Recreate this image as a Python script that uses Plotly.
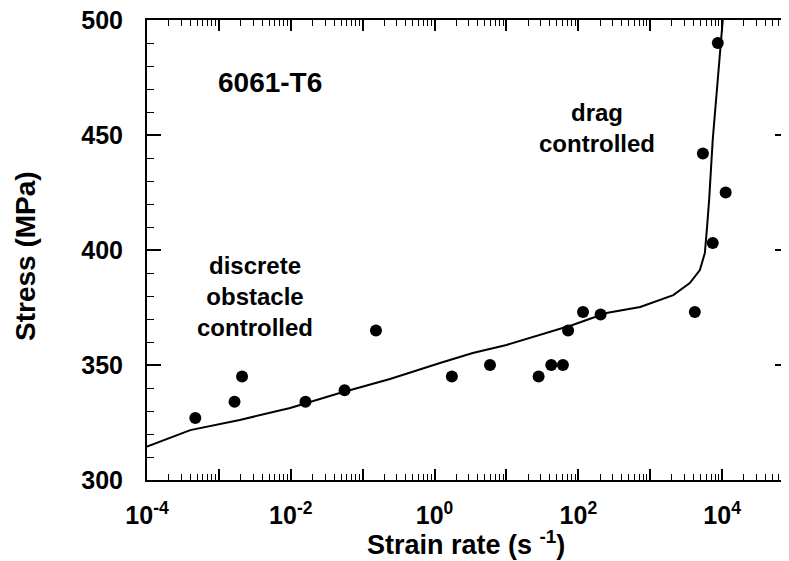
import plotly.graph_objects as go

# Model curve (strain rate in 1/s, stress in MPa)
model_rate = [1e-4, 4e-4, 1.95e-3, 9.8e-3, 0.048, 0.24, 1.19, 3.4, 10, 29.5, 83,
              245, 725, 2090, 3550, 4900, 5750, 6170, 6600, 7400, 8500, 10000, 10200]
model_stress = [314.5, 321.7, 326.1, 331.3, 337.8, 343.9, 350.9, 355.2, 358.7, 363.0, 367.4,
                372.6, 375.2, 380.4, 385.6, 391.3, 398.7, 410.0, 422.0, 448.0, 472.0, 497.0, 500.0]

# Experimental points
exp_rate = [4.7e-4, 1.65e-3, 2.1e-3, 0.016, 0.056, 0.153, 1.74, 5.9, 28, 42, 61, 72,
            116, 204, 4170, 7400, 5400, 8700, 11200]
exp_stress = [327, 334, 345, 334, 339, 365, 345, 350, 345, 350, 350, 365,
              373, 372, 373, 403, 442, 490, 425]

x_decades = [1e-4, 1e-3, 1e-2, 1e-1, 1e0, 1e1, 1e2, 1e3, 1e4]
x_label_vals = [1e-4, 1e-2, 1e0, 1e2, 1e4]
x_label_text = ["10<sup>-4</sup>", "10<sup>-2</sup>", "10<sup>0</sup>",
                "10<sup>2</sup>", "10<sup>4</sup>"]
y_tick_vals = [300, 350, 400, 450, 500]

FONT = "Liberation Sans"
X_RANGE = [-4, 4.93]

fig = go.Figure()
# the model curve is drawn on the labelled overlay axis (same range as the main x axis)
fig.add_trace(go.Scatter(x=model_rate, y=model_stress, mode="lines", xaxis="x2",
                         line=dict(color="black", width=2), showlegend=False))
fig.add_trace(go.Scatter(x=exp_rate, y=exp_stress, mode="markers",
                         marker=dict(color="black", size=12), showlegend=False))

# the page body has an 8px default margin, so the figure is sized to fit 789x561
fig.update_layout(
    width=781, height=553,
    margin=dict(l=139, r=0, t=12, b=81),
    plot_bgcolor="white", paper_bgcolor="white",
    font=dict(family=FONT, color="black", size=26, weight="bold"),
    xaxis=dict(type="log", range=X_RANGE, automargin=False,
               tickmode="array", tickvals=x_decades, showticklabels=False,
               ticks="inside", ticklen=11, tickwidth=1.5, tickcolor="black",
               minor=dict(ticks="inside", ticklen=6, tickwidth=1, tickcolor="black",
                          dtick="D1", showgrid=False),
               showline=True, linecolor="black", linewidth=2, mirror="ticks",
               showgrid=False, zeroline=False),
    xaxis2=dict(type="log", range=X_RANGE, automargin=False, overlaying="x",
                side="bottom", anchor="y",
                tickmode="array", tickvals=x_label_vals, ticktext=x_label_text,
                ticks="inside", ticklen=11, tickwidth=1.5, tickcolor="black",
                showline=False, showgrid=False, zeroline=False,
                tickfont=dict(family=FONT, size=25, weight="bold"),
                ticklabelstandoff=18, ticklabeloverflow="allow"),
    yaxis=dict(range=[300, 500], automargin=False,
               tickmode="array", tickvals=y_tick_vals,
               ticks="inside", ticklen=14, tickwidth=1.5, tickcolor="black",
               minor=dict(ticks="inside", ticklen=7, tickwidth=1, tickcolor="black",
                          dtick=10, showgrid=False),
               showline=True, linecolor="black", linewidth=2, mirror="ticks",
               showgrid=False, zeroline=False,
               tickfont=dict(family=FONT, size=25, weight="bold"),
               ticklabelstandoff=17, ticklabeloverflow="allow"),
)

# Axis titles
fig.add_annotation(x=0.497, y=-0.137, xref="paper", yref="paper",
                   text="Strain rate (s <sup>-1</sup>)", showarrow=False,
                   xanchor="center", yanchor="middle",
                   font=dict(family=FONT, size=27, weight="bold"))
fig.add_annotation(x=-0.1885, y=0.487, xref="paper", yref="paper",
                   text="Stress (MPa)", showarrow=False, textangle=-90,
                   xanchor="center", yanchor="middle",
                   font=dict(family=FONT, size=28, weight="bold"))

# In-plot labels
fig.add_annotation(x=-2.29, y=473, xref="x", yref="y", text="6061-T6", showarrow=False,
                   font=dict(family=FONT, size=28, weight="bold"))
fig.add_annotation(x=2.26, y=453, xref="x", yref="y", text="drag<br>controlled",
                   showarrow=False, font=dict(family=FONT, size=24, weight="bold"))
fig.add_annotation(x=-2.50, y=380, xref="x", yref="y",
                   text="discrete<br>obstacle<br>controlled",
                   showarrow=False, font=dict(family=FONT, size=24, weight="bold"))

fig.write_html("out.html")
